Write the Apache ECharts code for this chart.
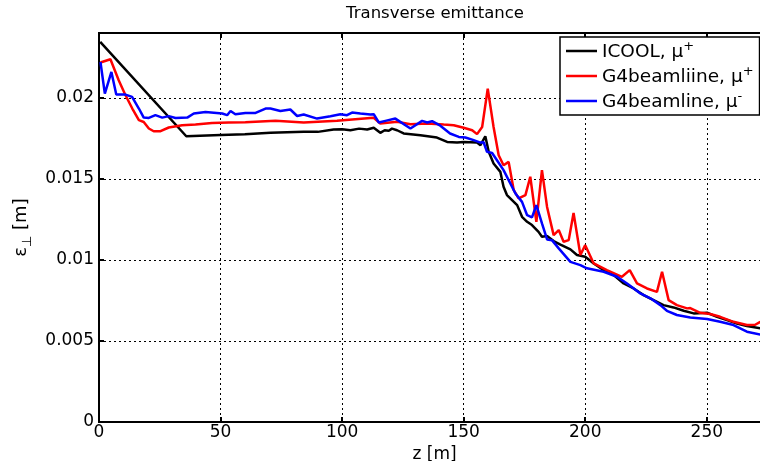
<!DOCTYPE html>
<html>
<head>
<meta charset="utf-8">
<script src="https://cdn.jsdelivr.net/npm/echarts@6/dist/echarts.min.js"></script>
<style>
html,body{margin:0;padding:0;background:#fff;}
#chart{width:760px;height:461px;}
</style>
</head>
<body>
<div id="chart"></div>
<script>
// ICOOL, mu+
var zIcool = [0.5, 35.9, 50, 60, 70.5, 84.2, 90, 96.5, 100, 103.4, 107, 110.3, 113, 115.7, 117.5, 119.2, 120.5, 122.6, 125.3, 132.2, 139, 143.2, 147.3, 150, 155.5, 156.9, 158.9, 160.3, 162.3, 165.1, 166.4, 167.8, 169.9, 172, 174, 176.1, 178.1, 180.8, 182.2, 184.3, 187, 189.8, 193.9, 196.6, 200, 203.5, 207.6, 211.7, 215.8, 219.9, 224, 228.1, 232.2, 236.3, 240.5, 244.6, 250.1, 254.2, 258.3, 262.4, 266.5, 272];
var epsIcool = [0.02345, 0.01763, 0.0177, 0.01775, 0.01784, 0.0179, 0.0179, 0.01805, 0.01806, 0.0180, 0.0181, 0.01805, 0.01815, 0.01784, 0.0180, 0.01797, 0.0181, 0.0180, 0.0178, 0.01769, 0.01755, 0.01728, 0.01724, 0.01728, 0.01724, 0.01708, 0.01763, 0.01667, 0.01595, 0.01543, 0.01451, 0.0140, 0.01369, 0.01338, 0.01266, 0.01235, 0.01215, 0.01173, 0.01143, 0.01147, 0.01116, 0.01095, 0.01065, 0.0103, 0.01019, 0.00978, 0.00937, 0.00906, 0.00855, 0.00824, 0.00783, 0.00752, 0.00721, 0.00707, 0.00686, 0.0067, 0.00674, 0.00649, 0.00629, 0.00608, 0.00592, 0.00578];

// G4beamliine, mu+
var zG4plus = [0.6, 4.7, 8.1, 10.9, 13.7, 16.4, 18.4, 20.5, 22.5, 25.3, 28.7, 34.2, 39.7, 46.5, 53.4, 60.2, 72.6, 84.2, 97.9, 111.6, 113, 115.7, 122.6, 128.1, 135, 141.8, 145.9, 150, 153.5, 155.5, 157.6, 159.9, 162.3, 164.4, 166.4, 168.5, 170.6, 172.6, 175.4, 177.4, 179.9, 182.2, 184.3, 187, 189.1, 191.1, 193.2, 195.2, 198, 200, 203.5, 208.9, 215.1, 218.3, 221.3, 225.4, 229.5, 231.6, 234.3, 237.7, 241.9, 243.2, 247.3, 251.4, 255.5, 261, 266.5, 269.9, 272];
var epsG4plus = [0.02218, 0.02238, 0.02108, 0.02016, 0.01934, 0.01862, 0.01851, 0.01811, 0.01794, 0.01794, 0.01817, 0.01831, 0.01835, 0.01845, 0.01848, 0.0185, 0.01858, 0.01848, 0.01858, 0.01876, 0.01877, 0.01842, 0.01852, 0.01837, 0.01842, 0.01835, 0.01831, 0.01815, 0.018, 0.01776, 0.0182, 0.02057, 0.0182, 0.01646, 0.01584, 0.01605, 0.0143, 0.01379, 0.0140, 0.01513, 0.01235, 0.01554, 0.01327, 0.01153, 0.01184, 0.01112, 0.01122, 0.0129, 0.0103, 0.01091, 0.00978, 0.00937, 0.00896, 0.00937, 0.00855, 0.00824, 0.00803, 0.00927, 0.00752, 0.00721, 0.00701, 0.00703, 0.00674, 0.00666, 0.00649, 0.00618, 0.00598, 0.006, 0.00618];

// G4beamline, mu-
var zG4minus = [0.6, 2.4, 5.1, 7.1, 10.9, 13.6, 16.4, 18.4, 20.5, 23.2, 26, 28.7, 31.5, 36.3, 39, 43.8, 50.7, 52.7, 54.1, 56.1, 60.2, 64.4, 68.5, 70.5, 74.6, 78.7, 81.5, 84.2, 89.7, 95.2, 99.3, 102, 104.1, 107.5, 111.6, 113, 115.1, 117.8, 121.9, 128.1, 132.9, 135, 137, 140.4, 144.4, 148, 150.7, 154.1, 156.9, 158.2, 159.6, 161.7, 163.7, 166.4, 168.5, 171.3, 174, 176.1, 178.1, 179.9, 182.2, 184.3, 186.3, 189.1, 193.9, 198, 200.7, 207.6, 213.1, 217.2, 222.7, 226.8, 230.9, 233.6, 237.7, 243.2, 250.1, 255.5, 261, 266.5, 272];
var epsG4minus = [0.02221, 0.02026, 0.0216, 0.0202, 0.0202, 0.02006, 0.01934, 0.01878, 0.01876, 0.01893, 0.01878, 0.01887, 0.01876, 0.01878, 0.01903, 0.01913, 0.01903, 0.01893, 0.01919, 0.01899, 0.01907, 0.01907, 0.01934, 0.01934, 0.01919, 0.01928, 0.01888, 0.01897, 0.01872, 0.01887, 0.01899, 0.01893, 0.01909, 0.01903, 0.01897, 0.01899, 0.01848, 0.01858, 0.01872, 0.01811, 0.01858, 0.01848, 0.01856, 0.01828, 0.0178, 0.01759, 0.01755, 0.01739, 0.01724, 0.01726, 0.01667, 0.0166, 0.01615, 0.01554, 0.01492, 0.0141, 0.01358, 0.01276, 0.01262, 0.01338, 0.01225, 0.01126, 0.01122, 0.01071, 0.00988, 0.00968, 0.00948, 0.00927, 0.00896, 0.00855, 0.00793, 0.00763, 0.00721, 0.00686, 0.0066, 0.00645, 0.00635, 0.00618, 0.00598, 0.00557, 0.0054];

var seriesNames = ['ICOOL, μ+', 'G4beamliine, μ+', 'G4beamline, μ-'];
var seriesColors = ['#000000', '#ff0000', '#0000ff'];

function zip(a, b) { return a.map(function (v, i) { return [v, b[i]]; }); }

var FONT = 'DejaVu Sans';
var chart = echarts.init(document.getElementById('chart'), null, {renderer: 'canvas'});

var axisCommon = {
  type: 'value', min: 0,
  axisLine: {show: true, onZero: false, lineStyle: {color: '#000', width: 2}},
  axisTick: {show: true, inside: true, length: 5, lineStyle: {color: '#000', width: 2}},
  axisLabel: {color: '#000', fontFamily: FONT, fontSize: 17, showMaxLabel: false},
  splitLine: {show: true, lineStyle: {color: '#000', width: 1, type: [2, 3]}}
};

chart.setOption({
  animation: false,
  backgroundColor: '#fff',
  title: {
    text: 'Transverse emittance', left: 430, top: 0, textAlign: 'center',
    textStyle: {fontFamily: FONT, fontSize: 16.5, fontWeight: 'normal', color: '#000'}
  },
  grid: {left: 99, top: 33, right: -10, bottom: 39, outerBoundsMode: 'none', containLabel: false,
    show: true, borderColor: '#000', borderWidth: 2, backgroundColor: 'transparent'},
  legend: {
    orient: 'vertical', left: 560, top: 37,
    backgroundColor: '#fff', borderColor: '#000', borderWidth: 1.5, borderRadius: 0,
    padding: [3, 6, 3, 6], itemGap: 3, itemWidth: 31, itemHeight: 2.5, icon: 'rect',
    data: seriesNames,
    formatter: function (name) {
      var sign = name.slice(-1);
      return '{b|' + name.slice(0, -1) + '}{sup|' + sign + '}';
    },
    textStyle: {
      color: '#000', fontFamily: FONT, fontSize: 18.5,
      rich: {
        b: {fontFamily: FONT, fontSize: 18.5, color: '#000', verticalAlign: 'bottom', padding: [3, 0, 0, 0]},
        sup: {fontFamily: FONT, fontSize: 13, color: '#000', verticalAlign: 'top'}
      }
    }
  },
  xAxis: [
    Object.assign({}, axisCommon, {
      max: 276, interval: 50, position: 'bottom',
      axisLabel: Object.assign({}, axisCommon.axisLabel, {margin: 2}),
      name: 'z [m]', nameLocation: 'middle', nameGap: 18,
      nameTextStyle: {color: '#000', fontFamily: FONT, fontSize: 17}
    }),
    Object.assign({}, axisCommon, {
      max: 276, interval: 50, position: 'top',
      axisLabel: {show: false}, splitLine: {show: false}
    })
  ],
  yAxis: [
    Object.assign({}, axisCommon, {
      max: 0.024, interval: 0.005, position: 'left',
      axisLabel: Object.assign({}, axisCommon.axisLabel, {margin: 5}),
      name: '{e|ε}{s|⊥}{e| [m]}', nameLocation: 'middle', nameRotate: 90, nameGap: 62,
      nameTextStyle: {
        color: '#000', fontFamily: FONT, fontSize: 18,
        rich: {
          e: {fontFamily: FONT, fontSize: 18, color: '#000', verticalAlign: 'top'},
          s: {fontFamily: FONT, fontSize: 13, color: '#000', verticalAlign: 'top', padding: [9, 0, 0, 0]}
        }
      }
    })
  ],
  series: [
    {name: seriesNames[0], type: 'line', data: zip(zIcool, epsIcool)},
    {name: seriesNames[1], type: 'line', data: zip(zG4plus, epsG4plus)},
    {name: seriesNames[2], type: 'line', data: zip(zG4minus, epsG4minus)}
  ].map(function (s, i) {
    s.symbol = 'none';
    s.showSymbol = false;
    s.color = seriesColors[i];
    s.lineStyle = {color: seriesColors[i], width: 2.5};
    s.clip = true;
    s.emphasis = {disabled: true};
    return s;
  })
});
</script>
</body>
</html>
